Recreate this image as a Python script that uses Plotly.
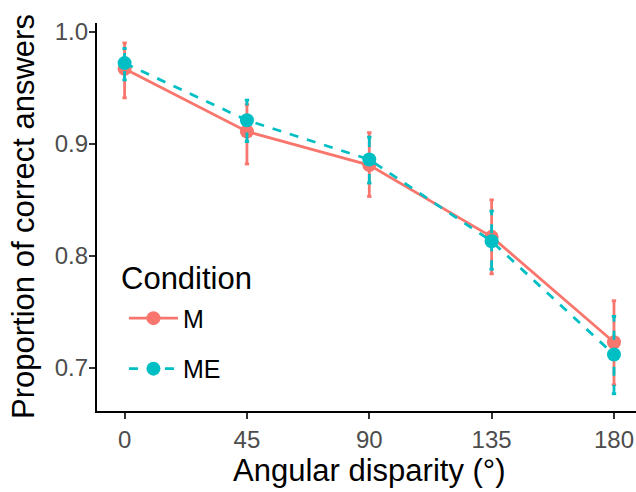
import plotly.graph_objects as go

angles = [0, 45, 90, 135, 180]
m_mean = [0.967, 0.911, 0.881, 0.817, 0.723]
m_lo = [0.941, 0.882, 0.853, 0.784, 0.685]
m_hi = [0.990, 0.935, 0.910, 0.850, 0.760]
me_mean = [0.972, 0.921, 0.886, 0.813, 0.712]
me_lo = [0.957, 0.902, 0.865, 0.788, 0.677]
me_hi = [0.985, 0.939, 0.906, 0.840, 0.746]

RED = "#F8766D"
TEAL = "#00BFC4"
CAP = 0.8


def err_segments(xs, lo, hi, cap):
    ex, ey = [], []
    for x, l, h in zip(xs, lo, hi):
        ex += [x, x, None, x - cap, x + cap, None, x - cap, x + cap, None]
        ey += [l, h, None, l, l, None, h, h, None]
    return ex, ey


fig = go.Figure()
for name, mean, lo, hi, col, dash, grp in [
    ("M", m_mean, m_lo, m_hi, RED, "solid", "a"),
    ("ME", me_mean, me_lo, me_hi, TEAL, "dash", "b"),
]:
    ex, ey = err_segments(angles, lo, hi, CAP)
    fig.add_trace(go.Scatter(x=ex, y=ey, mode="lines", showlegend=False,
                             line=dict(color=col, width=2.8, dash=dash),
                             hoverinfo="skip", legendgroup=grp))
    fig.add_trace(go.Scatter(x=angles, y=mean, mode="lines+markers", name=name,
                             legendgroup=grp,
                             line=dict(color=col, width=2.8, dash=dash),
                             marker=dict(color=col, size=14)))

# plot area in page px: x 97..636, y 23..411
fig.update_layout(
    width=636, height=492,
    margin=dict(l=97, r=0, t=23, b=81),
    paper_bgcolor="white", plot_bgcolor="white",
    font=dict(family="Liberation Sans, Arial, sans-serif", color="black"),
    showlegend=True,
    legend=dict(
        font=dict(size=25, color="black"),
        x=0.050, y=0.298, xanchor="left", yanchor="top",
        bgcolor="rgba(0,0,0,0)", tracegroupgap=15, itemwidth=49,
    ),
    xaxis=dict(
        range=[-10.15, 188.1], tickvals=angles, ticktext=[str(a) for a in angles],
        showline=True, linecolor="black", linewidth=2.2,
        ticks="outside", ticklen=6, tickwidth=2, tickcolor="#333333",
        tickfont=dict(size=24, color="#4D4D4D"), showgrid=False, zeroline=False,
        automargin=False,
    ),
    yaxis=dict(
        range=[0.6616, 1.0078], tickvals=[0.7, 0.8, 0.9, 1.0],
        ticktext=["0.7", "0.8", "0.9", "1.0"],
        showline=True, linecolor="black", linewidth=2.2,
        ticks="outside", ticklen=6, tickwidth=2, tickcolor="#333333",
        tickfont=dict(size=24, color="#4D4D4D"), showgrid=False, zeroline=False,
        automargin=False, ticklabelstandoff=-4,
    ),
    annotations=[
        dict(text="Angular disparity (°)", xref="paper", yref="paper", x=0.505, y=0,
             xanchor="center", yanchor="middle", yshift=-59, showarrow=False,
             font=dict(size=31, color="black")),
        dict(text="Proportion of correct answers", xref="paper", yref="paper", x=0, y=0.5,
             xanchor="center", yanchor="middle", xshift=-74, textangle=-90, showarrow=False,
             font=dict(size=31, color="black")),
        dict(text="Condition", xref="paper", yref="paper", x=(111 - 89) / 539, y=(403 - 270) / 388,
             xanchor="left", yanchor="middle", showarrow=False,
             font=dict(size=31, color="black")),
    ],
)

fig.write_html(
    "out.html",
    config={"displayModeBar": False},
    post_script="document.body.style.margin='0';document.body.style.overflow='hidden';",
)
